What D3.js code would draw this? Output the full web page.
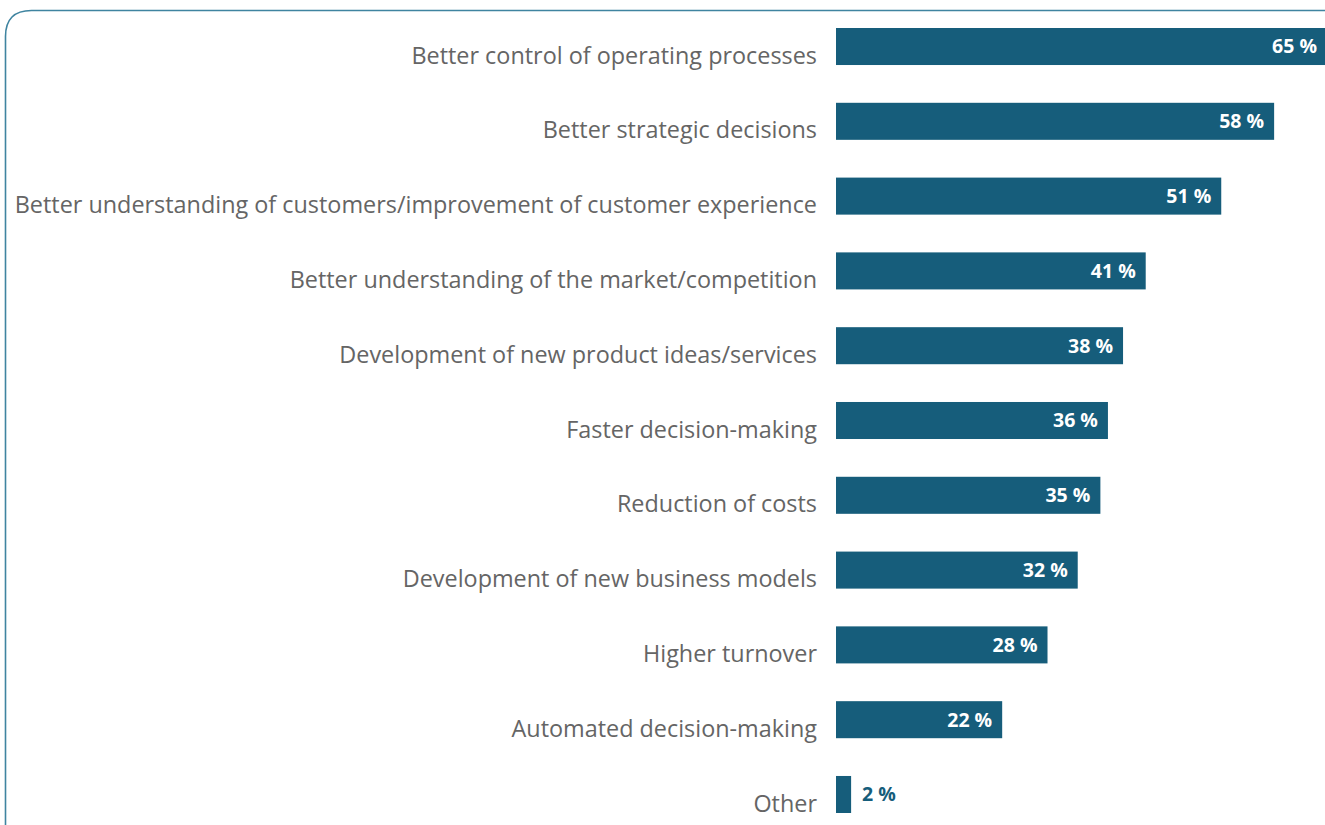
<!DOCTYPE html>
<html>
<head>
<meta charset="utf-8">
<script src="https://cdn.jsdelivr.net/npm/d3@7"></script>
<style>
  html, body { margin: 0; padding: 0; background: #fff; }
  svg { display: block; }
</style>
</head>
<body>
<svg id="chart" width="1325" height="825"></svg>
<script>
// data
var categories = [
  "Better control of operating processes",
  "Better strategic decisions",
  "Better understanding of customers/improvement of customer experience",
  "Better understanding of the market/competition",
  "Development of new product ideas/services",
  "Faster decision-making",
  "Reduction of costs",
  "Development of new business models",
  "Higher turnover",
  "Automated decision-making",
  "Other"
];
var values = [65, 58, 51, 41, 38, 36, 35, 32, 28, 22, 2];

var svg = d3.select("#chart");
var barColor = "#165d7b";

// frame with rounded top-left corner
var r = 26;
svg.append("path")
  .attr("d", "M5.5,825 L5.5," + (10.5 + r) + " Q5.5,10.5 " + (5.5 + r) + ",10.5 L1325,10.5")
  .attr("fill", "none")
  .attr("stroke", "#3f84a0")
  .attr("stroke-width", 1.6);

var x = d3.scaleLinear().domain([0, 65]).range([836, 1327]);
var y = d3.scaleBand().domain(categories).range([28, 813])
  .paddingInner(0.505).paddingOuter(0).align(0);

var rows = svg.selectAll("g.row").data(categories).enter()
  .append("g").attr("class", "row");

rows.append("rect")
  .attr("x", x(0))
  .attr("y", function(d) { return y(d); })
  .attr("width", function(d, i) { return x(values[i]) - x(0); })
  .attr("height", y.bandwidth())
  .attr("fill", barColor);

// category labels
rows.append("text")
  .attr("x", 817)
  .attr("y", function(d) { return y(d) + y.bandwidth() / 2 + 9; })
  .attr("dy", "0.35em")
  .attr("text-anchor", "end")
  .attr("font-family", "'Open Sans', sans-serif")
  .attr("font-size", 23.4)
  .attr("fill", "#656565")
  .text(function(d) { return d; });

// value labels
rows.append("text")
  .attr("x", function(d, i) { return values[i] < 5 ? x(values[i]) + 11 : x(values[i]) - 10; })
  .attr("y", function(d) { return y(d) + y.bandwidth() / 2; })
  .attr("dy", "0.35em")
  .attr("text-anchor", function(d, i) { return values[i] < 5 ? "start" : "end"; })
  .attr("font-family", "'Open Sans', sans-serif")
  .attr("font-weight", "bold")
  .attr("font-size", 19.5)
  .attr("fill", function(d, i) { return values[i] < 5 ? barColor : "#fff"; })
  .text(function(d, i) { return values[i] + " %"; });
</script>
</body>
</html>
